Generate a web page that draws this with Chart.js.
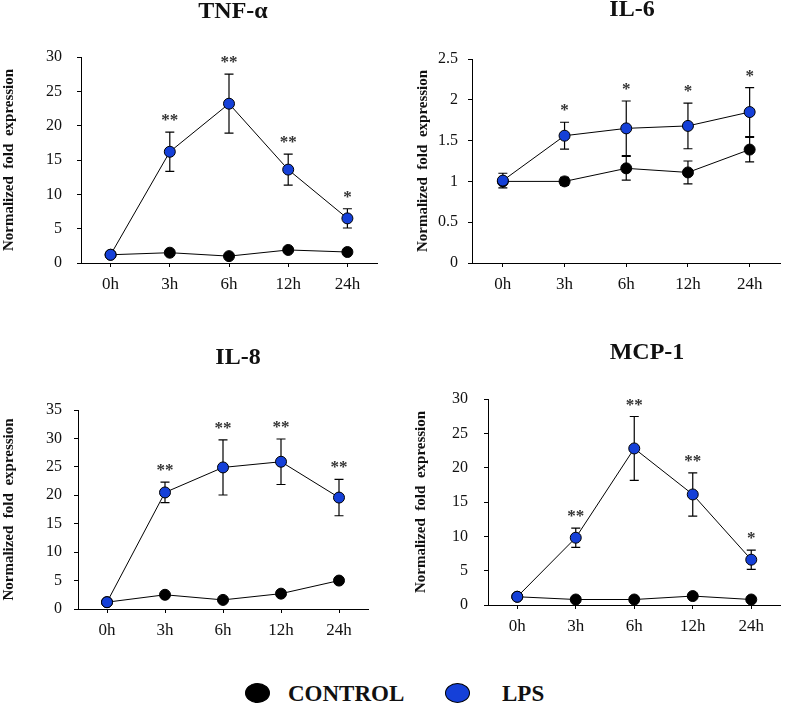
<!DOCTYPE html>
<html><head><meta charset="utf-8">
<script src="https://cdn.jsdelivr.net/npm/chart.js@4"></script>
<style>
html,body{margin:0;padding:0;background:#fff;}
body{width:787px;height:705px;position:relative;overflow:hidden;font-family:'Liberation Serif','Times New Roman',serif;}
.pc{position:absolute;}
.lg-dot{position:absolute;width:25px;height:20px;border-radius:50%;border:1px solid #000;box-sizing:border-box;}
.lg-txt{position:absolute;font-weight:bold;font-size:23px;line-height:22px;color:#111;white-space:nowrap;}
</style></head>
<body>
<div class="pc" style="left:0;top:0"><canvas id="c0" width="390" height="300"></canvas></div>
<div class="pc" style="left:390px;top:0"><canvas id="c1" width="397" height="300"></canvas></div>
<div class="pc" style="left:0;top:310px"><canvas id="c2" width="390" height="340"></canvas></div>
<div class="pc" style="left:390px;top:310px"><canvas id="c3" width="397" height="340"></canvas></div>
<div class="lg-dot" style="left:245px;top:683px;background:#000"></div>
<div class="lg-txt" id="lg0" style="left:288px;top:683px"></div>
<div class="lg-dot" style="left:445px;top:683px;background:#1540d8"></div>
<div class="lg-txt" id="lg1" style="left:502px;top:683px"></div>
<script>
// ---- data ----
const timepoints = ['0h', '3h', '6h', '12h', '24h'];
const seriesNames = ['CONTROL', 'LPS'];
const genes = ['TNF-α', 'IL-6', 'IL-8', 'MCP-1'];
const yAxisTitle = 'Normalized  fold  expression';

const tnfControl   = [1.2, 1.5, 1.0, 1.9, 1.6];
const tnfControlSd = [0, 0, 0, 0, 0];
const tnfLps       = [1.2, 16.2, 23.2, 13.6, 6.5];
const tnfLpsSd     = [0, 2.85, 4.3, 2.25, 1.4];
const tnfStars     = ['', '**', '**', '**', '*'];

const il6Control   = [1.0, 1.0, 1.16, 1.11, 1.39];
const il6ControlSd = [0, 0.05, 0.145, 0.14, 0.15];
const il6Lps       = [1.01, 1.56, 1.65, 1.68, 1.85];
const il6LpsSd     = [0.09, 0.165, 0.335, 0.28, 0.30];
const il6Stars     = ['', '*', '*', '*', '*'];

const il8Control   = [1.2, 2.5, 1.6, 2.7, 5.0];
const il8ControlSd = [0, 0, 0, 0, 0];
const il8Lps       = [1.2, 20.5, 24.9, 25.9, 19.6];
const il8LpsSd     = [0, 1.8, 4.85, 4.0, 3.2];
const il8Stars     = ['', '**', '**', '**', '**'];

const mcpControl   = [1.2, 0.8, 0.8, 1.3, 0.8];
const mcpControlSd = [0, 0, 0, 0, 0];
const mcpLps       = [1.2, 9.8, 22.8, 16.1, 6.6];
const mcpLpsSd     = [0, 1.4, 4.65, 3.15, 1.4];
const mcpStars     = ['', '**', '**', '**', '*'];

const yMax  = [30, 2.5, 35, 30];
const yStep = [5, 0.5, 5, 5];

// ---- styling / layout ----
const FONT = "'Liberation Serif', 'Times New Roman', serif";
const BLUE = '#1540d8';
const panelData = [
  {c: tnfControl, cs: tnfControlSd, l: tnfLps, ls: tnfLpsSd, s: tnfStars},
  {c: il6Control, cs: il6ControlSd, l: il6Lps, ls: il6LpsSd, s: il6Stars},
  {c: il8Control, cs: il8ControlSd, l: il8Lps, ls: il8LpsSd, s: il8Stars},
  {c: mcpControl, cs: mcpControlSd, l: mcpLps, ls: mcpLpsSd, s: mcpStars}
];
const panelLayout = [
  {pad: {top: 57, right: 13}, yW: 81, xH: 37, yTitlePad: 0,  yTickPad: 15, tx: 233, ty: 12},
  {pad: {top: 59, right: 1},  yW: 82, xH: 37, yTitlePad: 24, yTickPad: 10, tx: 242, ty: 10},
  {pad: {top: 100, right: 22}, yW: 78, xH: 41, yTitlePad: 0, yTickPad: 12, tx: 238, ty: 48},
  {pad: {top: 89, right: 4},  yW: 98, xH: 45, yTitlePad: 22, yTickPad: 16, tx: 257, ty: 43}
];

const errorPlugin = {
  id: 'errorBars',
  beforeDatasetsDraw(chart) {
    const {ctx} = chart;
    const xs = chart.scales.x, ys = chart.scales.y;
    chart.data.datasets.forEach(ds => {
      const sd = ds.errors;
      if (!sd) return;
      ds.data.forEach((v, j) => {
        if (!sd[j]) return;
        const px = xs.getPixelForValue(j);
        const yt = ys.getPixelForValue(v + sd[j]);
        const yb = ys.getPixelForValue(v - sd[j]);
        ctx.save();
        ctx.strokeStyle = '#000';
        ctx.lineWidth = 1.2;
        ctx.beginPath();
        ctx.moveTo(px, yt); ctx.lineTo(px, yb);
        ctx.moveTo(px - 4.5, yt); ctx.lineTo(px + 4.5, yt);
        ctx.moveTo(px - 4.5, yb); ctx.lineTo(px + 4.5, yb);
        ctx.stroke();
        ctx.restore();
      });
    });
  },
  afterDatasetsDraw(chart) {
    const {ctx} = chart;
    const xs = chart.scales.x, ys = chart.scales.y;
    chart.data.datasets.forEach(ds => {
      if (!ds.stars) return;
      ds.data.forEach((v, j) => {
        const st = ds.stars[j];
        if (!st) return;
        const px = xs.getPixelForValue(j);
        const yt = ys.getPixelForValue(v + (ds.errors ? ds.errors[j] : 0));
        ctx.save();
        ctx.fillStyle = '#333';
        ctx.font = 'bold 17px ' + FONT;
        ctx.textAlign = 'center';
        ctx.textBaseline = 'alphabetic';
        ctx.fillText(st, px, yt - 7);
        ctx.restore();
      });
    });
  }
};

const titlePlugin = {
  id: 'panelTitle',
  afterDraw(chart, args, opts) {
    const {ctx} = chart;
    ctx.save();
    ctx.fillStyle = '#111';
    ctx.font = 'bold 24px ' + FONT;
    ctx.textAlign = 'center';
    ctx.textBaseline = 'middle';
    ctx.fillText(opts.text, opts.x, opts.y);
    ctx.restore();
  }
};

panelData.forEach((d, i) => {
  const p = panelLayout[i];
  new Chart(document.getElementById('c' + i), {
    type: 'line',
    data: {
      labels: timepoints,
      datasets: [
        {label: seriesNames[1], data: d.l, errors: d.ls, stars: d.s,
         borderColor: '#000', borderWidth: 1, backgroundColor: BLUE,
         pointBackgroundColor: BLUE, pointBorderColor: '#000', pointBorderWidth: 1,
         pointRadius: 5.5, tension: 0, fill: false, order: 0},
        {label: seriesNames[0], data: d.c, errors: d.cs,
         borderColor: '#000', borderWidth: 1, backgroundColor: '#000',
         pointBackgroundColor: '#000', pointBorderColor: '#000', pointBorderWidth: 1,
         pointRadius: 5.5, tension: 0, fill: false, order: 1}
      ]
    },
    options: {
      responsive: false,
      animation: false,
      events: [],
      layout: {padding: {top: p.pad.top, right: p.pad.right, left: 0, bottom: 0}},
      plugins: {
        legend: {display: false},
        tooltip: {enabled: false},
        panelTitle: {text: genes[i], x: p.tx, y: p.ty}
      },
      scales: {
        x: {
          type: 'category', offset: true,
          grid: {display: true, offset: false, drawOnChartArea: false, drawTicks: true, tickLength: 4, color: '#000'},
          border: {display: true, color: '#000', width: 1},
          ticks: {color: '#111', font: {family: FONT, size: 17}, padding: 7, maxRotation: 0, autoSkip: false},
          afterFit(s) { s.height = p.xH; }
        },
        y: {
          min: 0, max: yMax[i],
          grid: {display: true, drawOnChartArea: false, drawTicks: true, tickLength: 4, color: '#000'},
          border: {display: true, color: '#000', width: 1},
          ticks: {stepSize: yStep[i], color: '#111', font: {family: FONT, size: 16}, padding: p.yTickPad,
                  callback: v => String(Number(v))},
          title: {display: true, text: yAxisTitle, color: '#111',
                  font: {family: FONT, size: 15, weight: 'bold'},
                  padding: {top: p.yTitlePad, bottom: 0}},
          afterFit(s) { s.width = p.yW; }
        }
      }
    },
    plugins: [errorPlugin, titlePlugin]
  });
});
document.getElementById('lg0').textContent = seriesNames[0];
document.getElementById('lg1').textContent = seriesNames[1];
</script>
</body></html>
